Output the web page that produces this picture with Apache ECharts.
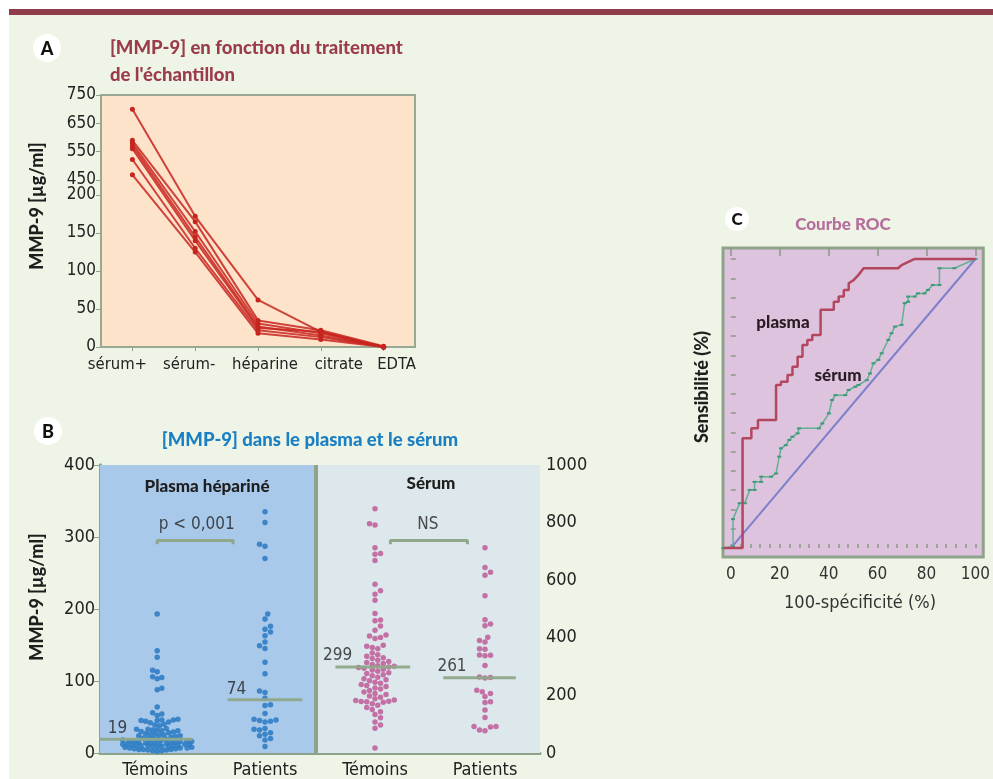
<!DOCTYPE html>
<html><head><meta charset="utf-8">
<script src="https://cdn.jsdelivr.net/npm/echarts@6/dist/echarts.min.js"></script>
<style>html,body{margin:0;padding:0;background:#fff}#c{width:993px;height:779px}</style>
</head><body><div id="c"></div>
<script>
// ---------- Panel A data ----------
const treatCats = ['sérum+', 'sérum-', 'héparine', 'citrate', 'EDTA'];
const sampleA1 = [700, 172, 62, 20, 0];
const sampleA2 = [590, 165, 35, 22, 1];
const sampleA3 = [580, 152, 31, 18, 0];
const sampleA4 = [570, 145, 27, 15, 0];
const sampleA5 = [560, 140, 25, 20, 0];
const sampleA6 = [522, 130, 22, 13, 0];
const sampleA7 = [468, 125, 18, 10, 0];
const yTicksA = [0, 50, 100, 150, 200, 450, 550, 650, 750];

// ---------- Panel B data ----------
const groupCats = ['Témoins', 'Patients', 'Témoins', 'Patients'];
const plasmaTemoins = [193,142,133,115,113,106,105,103,90,88,64,56,54,52,
  47,46,46,45,45,44,43,42,40,39,38,34,33,33,32,32,31,31,30,29,28,
  27,26,26,25,25,24,24,23,22,21,20,20,19,19,
  18,18,17,17,16,16,16,15,15,15,14,14,14,13,13,13,12,12,12,11,11,11,10,10,10,
  9,9,9,8,8,8,7,7,7,6,6,5,5,5,4,4,3,3,2];
const plasmaPatients = [335,320,290,287,270,193,186,176,172,168,163,154,149,145,126,110,
  86,84,76,67,66,55,47,46,45,44,43,34,33,32,28,26,24,20,18,9];
const serumTemoins = [848,796,792,713,693,690,668,586,563,551,530,484,462,459,441,426,
  410,406,401,398,374,371,366,362,347,341,336,331,328,322,318,314,311,307,303,301,299,
  297,294,291,288,284,279,276,272,268,263,258,254,251,246,242,238,234,231,226,222,217,
  212,207,203,198,194,188,184,182,180,179,178,176,171,166,158,151,143,134,122,108,97,86,17];
const serumPatients = [713,644,628,617,546,463,448,442,402,391,385,362,360,340,339,338,
  304,264,262,260,218,213,207,196,178,175,149,123,92,92,90,80,77];
const mediansB = [19, 74, 299, 261];
const bracketValue = 295;

// ---------- Panel C data ----------
const rocPlasma = [[-3,0],[4.8,0],[4.8,38],[8.4,38],[8.4,41.4],[11.1,41.4],[11.1,44.3],[18.5,44.3],
  [18.5,56.4],[20.5,56.4],[20.5,57.5],[23.2,57.5],[23.2,59.9],[25.2,59.9],[25.2,62.7],[27.3,62.7],
  [27.3,66.2],[29.3,66.2],[29.3,70.2],[31.3,70.2],[31.3,72],[33.3,72],[33.3,73.7],[36.7,73.7],
  [36.7,82.4],[42.1,82.4],[42.1,85.2],[44.1,85.2],[44.1,87],[46.2,87],[46.2,89.3],[48.2,89.3],
  [48.2,91.6],[50.2,92.7],[52.2,94.5],[54.3,96.8],[68.4,96.8],[69.8,97.9],[75.2,100],[100,100]];
const rocSerum = [[-3,0],[0.9,0.5],[0.9,10],[3.6,15.5],[5.7,15.5],[7.7,20.1],[9.7,20.1],[9.7,22.9],
  [12.4,22.9],[12.4,24.7],[16.5,24.7],[18.5,25.8],[19.8,31.6],[20.5,34.5],[22.5,35.6],[23.9,37.4],
  [25.2,38.5],[27.3,39.7],[27.9,41.4],[36,41.4],[37.4,43.1],[40.1,46.6],[41.4,51.2],[42.8,52.9],
  [46.8,52.9],[48.2,54.7],[50.9,55.8],[52.2,56.4],[55.6,58.1],[56.9,60.4],[58.3,63.9],[60.3,65.1],
  [61.7,67.4],[64.4,72],[65.7,74.3],[67.1,76.6],[69.8,77.2],[71.1,84.7],[72.5,85.2],[72.5,87],
  [75.2,87],[76.5,88.1],[79.2,88.1],[80.6,89.3],[82.6,91],[85.3,91],[85.3,96.8],[91.4,96.8],[100,100]];
const rocDiag = [[0,0],[100,100]];
const rocTicksX = [0, 20, 40, 60, 80, 100];

// ---------- helpers ----------
// broken axis mapping for panel A (0-200 linear, then 450-750 compressed)
const fA = v => v <= 300 ? v : 220 + (v - 450) * 0.3724;
const invA = t => t <= 205 ? t : 450 + (t - 220) / 0.3724;

// beeswarm layout (pixel-based collision avoidance)
function swarm(values, center, pxY, pxX, D, maxHalf) {
  const sorted = values.slice().sort((a, b) => a - b);
  const placed = [], out = [];
  const step = D / 2;
  sorted.forEach((v, i) => {
    const y = v * pxY;
    let best = 0, bestScore = -1, found = false;
    for (let k = 0; k * step <= maxHalf && !found; k++) {
      const c = k === 0 ? [0] : (i % 2 ? [-k * step, k * step] : [k * step, -k * step]);
      for (const dx of c) {
        let m = Infinity;
        for (const p of placed) { const d = Math.hypot(p[0] - dx, p[1] - y); if (d < m) m = d; }
        if (m >= D) { best = dx; found = true; break; }
        if (m > bestScore) { bestScore = m; best = dx; }
      }
    }
    placed.push([best, y]);
    out.push([center + best / pxX, v]);
  });
  return out;
}

const NUM = '"DejaVu Sans Condensed", "DejaVu Sans", sans-serif';
const BOLD = 'Lato, "Open Sans", sans-serif';
const GG = '#8fa38a';

const chart = echarts.init(document.getElementById('c'), null, {renderer: 'canvas'});

const pxX = 440 / 4, pxYL = 290 / 400, pxYR = 290 / 1000;
const dotsPT = swarm(plasmaTemoins, 0.52, pxYL, pxX, 4.6, 36);
const dotsPP = swarm(plasmaPatients, 1.5, pxYL, pxX, 5.5, 40);
const dotsST = swarm(serumTemoins, 2.5, pxYR, pxX, 5.5, 40);
const dotsSP = swarm(serumPatients, 3.5, pxYR, pxX, 5.5, 40);

const samplesA = [sampleA1, sampleA2, sampleA3, sampleA4, sampleA5, sampleA6, sampleA7];
// label nudges (layout only) so the category names sit as in the reference
const labelPadA = [[0, 30, 0, 0], [0, 12, 0, 0], [0, 0, 0, 14], [0, 0, 0, 36], [0, 0, 0, 26]];

const ticksX5 = []; for (let i = 0; i <= 100; i += 4) ticksX5.push(i);
const ticksY15 = []; for (let i = 0; i <= 15; i++) ticksY15.push(i * 100 / 15);

function txt(x, y, s, o) {
  return {type: 'text', x: x, y: y, style: Object.assign({text: s, fill: '#1e1e1e',
    font: '900 17px ' + BOLD, align: 'center', verticalAlign: 'middle'}, o || {})};
}

const medianLine = (x0, x1, v, yi) => ({type: 'line', xAxisIndex: 1, yAxisIndex: yi, z: 4, symbol: 'none',
  silent: true, data: [[x0, v], [x1, v]], lineStyle: {color: '#8ea889', width: 3, opacity: 0.95}});
const labelPt = (x, v, s, yi, dist) => ({type: 'scatter', xAxisIndex: 1, yAxisIndex: yi, symbolSize: 0, z: 5,
  data: [[x, v]], label: {show: true, position: 'top', distance: dist, formatter: s,
  fontFamily: NUM, fontSize: 17, color: '#222'}});

const option = {
  backgroundColor: '#eef4e6',
  animation: false,
  graphic: [
    {type: 'rect', shape: {x: 0, y: 0, width: 993, height: 9}, style: {fill: '#fff'}},
    {type: 'rect', shape: {x: 0, y: 0, width: 9, height: 779}, style: {fill: '#fff'}},
    {type: 'rect', shape: {x: 9, y: 9, width: 984, height: 6}, style: {fill: '#8e3c4b'}},
    {type: 'circle', shape: {cx: 47, cy: 48, r: 14}, style: {fill: '#fff'}},
    txt(47, 49, 'A', {font: '900 18px ' + BOLD, fill: '#111'}),
    txt(110, 48, '[MMP-9] en fonction du traitement', {align: 'left', fill: '#9a3c4c', font: '900 18.5px ' + BOLD}),
    txt(110, 75, "de l'échantillon", {align: 'left', fill: '#9a3c4c', font: '900 18.5px ' + BOLD}),
    Object.assign(txt(37, 206, 'MMP-9 [µg/ml]', {font: '900 18px ' + BOLD}), {rotation: Math.PI / 2}),
    {type: 'circle', shape: {cx: 48, cy: 431, r: 14}, style: {fill: '#fff'}},
    txt(48, 432, 'B', {font: '900 18px ' + BOLD, fill: '#111'}),
    txt(310, 440, '[MMP-9] dans le plasma et le sérum', {fill: '#1b7fc4', font: '900 18.5px ' + BOLD}),
    Object.assign(txt(37, 597, 'MMP-9 [µg/ml]', {font: '900 18px ' + BOLD}), {rotation: Math.PI / 2}),
    {type: 'circle', shape: {cx: 737, cy: 219, r: 12}, style: {fill: '#fff'}},
    txt(737, 220, 'C', {font: '900 17px ' + BOLD, fill: '#111'}),
    txt(843, 225, 'Courbe ROC', {fill: '#b66e9c'}),
    Object.assign(txt(702, 387, 'Sensibilité (%)', {font: '900 18px ' + BOLD}), {rotation: Math.PI / 2}),
    txt(860, 603, '100-spécificité (%)', {font: '18px ' + NUM, fill: '#333'}),
    Object.assign(txt(207, 487, 'Plasma hépariné'), {z: 10}),
    Object.assign(txt(431, 484, 'Sérum'), {z: 10}),
    Object.assign(txt(783, 323, 'plasma', {fill: '#2a1a22'}), {z: 10}),
    Object.assign(txt(838, 376, 'sérum', {fill: '#2a1a22'}), {z: 10})
  ],
  grid: [
    {left: 101, top: 95, width: 314, height: 252, show: true, backgroundColor: '#fde3ca', borderColor: '#98a892', borderWidth: 2},
    {left: 100, top: 465, width: 440, height: 290, show: false},
    {left: 723, top: 248, width: 264, height: 309, show: true, backgroundColor: '#ddc3de', borderColor: GG, borderWidth: 3}
  ],
  xAxis: [
    {type: 'category', gridIndex: 0, boundaryGap: true,
      data: treatCats.map((c, i) => ({value: c, textStyle: {padding: labelPadA[i]}})),
      axisLine: {show: false}, axisTick: {show: true, alignWithLabel: true, length: 4, lineStyle: {color: GG}},
      axisLabel: {interval: 0, fontFamily: NUM, fontSize: 16.5, color: '#222', margin: 9}},
    {type: 'value', gridIndex: 1, min: 0, max: 4, splitLine: {show: false},
      axisLine: {show: true, lineStyle: {color: GG, width: 3}}, axisTick: {show: false},
      axisLabel: {customValues: [0.5, 1.5, 2.5, 3.5], formatter: v => groupCats[Math.floor(v)],
        fontFamily: NUM, fontSize: 18, color: '#222', margin: 8}},
    {type: 'value', gridIndex: 1, position: 'top', min: 0, max: 4, splitLine: {show: false},
      axisLine: {show: true, lineStyle: {color: GG, width: 2}}, axisTick: {show: false}, axisLabel: {show: false}},
    {type: 'value', gridIndex: 2, min: -3.2, max: 103.2, splitLine: {show: false}, axisLine: {show: false},
      axisTick: {show: true, inside: true, length: 4, customValues: ticksX5, lineStyle: {color: '#8a9b84', width: 1.5}},
      axisLabel: {customValues: rocTicksX, fontFamily: NUM, fontSize: 17, color: '#333', margin: 9}},
    {type: 'value', gridIndex: 2, min: -3.2, max: 103.2, splitLine: {show: false}, axisLine: {show: false},
      axisTick: {show: true, inside: true, length: 8, customValues: rocTicksX, lineStyle: {color: '#8a9b84', width: 1.5}},
      axisLabel: {show: false}}
  ],
  yAxis: [
    {type: 'value', gridIndex: 0, min: 0, max: fA(750), splitLine: {show: false}, axisLine: {show: false},
      axisTick: {show: true, length: 5, customValues: yTicksA.map(fA), lineStyle: {color: GG}},
      axisLabel: {customValues: yTicksA.map(fA), formatter: v => String(Math.round(invA(v))),
        fontFamily: NUM, fontSize: 17, color: '#222', margin: 5}},
    {type: 'value', gridIndex: 1, min: 0, max: 400, interval: 100, splitLine: {show: false},
      axisLine: {show: true, lineStyle: {color: GG, width: 3}},
      axisTick: {show: true, length: 6, lineStyle: {color: GG}},
      axisLabel: {fontFamily: NUM, fontSize: 18, color: '#222', margin: 5}},
    {type: 'value', gridIndex: 1, position: 'right', min: 0, max: 1000, interval: 200, splitLine: {show: false},
      axisLine: {show: true, lineStyle: {color: GG, width: 3}},
      axisTick: {show: true, length: 6, lineStyle: {color: GG}},
      axisLabel: {formatter: v => String(v), fontFamily: NUM, fontSize: 18, color: '#222', margin: 6}},
    {type: 'value', gridIndex: 2, min: -3.1, max: 103.8, splitLine: {show: false}, axisLine: {show: false},
      axisTick: {show: true, inside: true, length: 5, customValues: ticksY15, lineStyle: {color: '#8a9b84', width: 1.5}},
      axisLabel: {show: false}}
  ],
  series: [].concat(
    samplesA.map(s => ({type: 'line', xAxisIndex: 0, yAxisIndex: 0, data: s.map(fA), symbol: 'circle', symbolSize: 5,
      lineStyle: {color: 'rgba(200,38,32,0.85)', width: 2}, itemStyle: {color: '#c5261f'}, z: 3})),
    [
      {type: 'line', xAxisIndex: 1, yAxisIndex: 1, z: 1, symbol: 'none', silent: true,
        data: [[0.52, bracketValue - 5], [0.52, bracketValue], [1.21, bracketValue], [1.21, bracketValue - 5]],
        lineStyle: {color: '#8ea889', width: 3},
        markArea: {silent: true, data: [
          [{xAxis: 0, yAxis: 0, itemStyle: {color: '#a9c9ea'}}, {xAxis: 1.96, yAxis: 400}],
          [{xAxis: 1.96, yAxis: 0, itemStyle: {color: '#dde8ec'}}, {xAxis: 4, yAxis: 400}]
        ]},
        markLine: {silent: true, symbol: 'none', label: {show: false},
          lineStyle: {color: GG, width: 4, type: 'solid'}, data: [{xAxis: 1.96}]}},
      {type: 'line', xAxisIndex: 1, yAxisIndex: 1, z: 4, symbol: 'none', silent: true,
        data: [[2.64, bracketValue - 5], [2.64, bracketValue], [3.34, bracketValue], [3.34, bracketValue - 5]],
        lineStyle: {color: '#8ea889', width: 3}},
      {type: 'scatter', xAxisIndex: 1, yAxisIndex: 1, z: 3, data: dotsPT, symbolSize: 5.5,
        itemStyle: {color: '#2f7dc4', opacity: 0.9}},
      {type: 'scatter', xAxisIndex: 1, yAxisIndex: 1, z: 3, data: dotsPP, symbolSize: 5.5,
        itemStyle: {color: '#2f7dc4', opacity: 0.9}},
      {type: 'scatter', xAxisIndex: 1, yAxisIndex: 2, z: 3, data: dotsST, symbolSize: 5.5,
        itemStyle: {color: '#c0649c', opacity: 0.9}},
      {type: 'scatter', xAxisIndex: 1, yAxisIndex: 2, z: 3, data: dotsSP, symbolSize: 5.5,
        itemStyle: {color: '#c0649c', opacity: 0.9}},
      medianLine(0, 0.84, mediansB[0], 1),
      medianLine(1.16, 1.84, mediansB[1], 1),
      medianLine(2.14, 2.82, mediansB[2], 2),
      medianLine(3.12, 3.78, mediansB[3], 2),
      labelPt(0.16, mediansB[0], String(mediansB[0]), 1, 2),
      labelPt(1.24, mediansB[1], String(mediansB[1]), 1, 2),
      labelPt(2.16, mediansB[2], String(mediansB[2]), 2, 3),
      labelPt(3.2, mediansB[3], String(mediansB[3]), 2, 3),
      labelPt(0.88, bracketValue, 'p < 0,001', 1, 8),
      labelPt(2.98, bracketValue, 'NS', 1, 8),
      {type: 'line', xAxisIndex: 3, yAxisIndex: 3, data: rocDiag, symbol: 'none', z: 3,
        lineStyle: {color: '#7e80cc', width: 2}},
      {type: 'line', xAxisIndex: 3, yAxisIndex: 3, data: rocSerum, symbol: 'rect', symbolSize: [4, 2], z: 4,
        lineStyle: {color: '#62b091', width: 1.5}, itemStyle: {color: '#3f9a78'}},
      {type: 'line', xAxisIndex: 3, yAxisIndex: 3, data: rocPlasma, symbol: 'none', z: 5,
        lineStyle: {color: '#b3475f', width: 2.5}}
    ]
  )
};
chart.setOption(option);
</script>
</body></html>
